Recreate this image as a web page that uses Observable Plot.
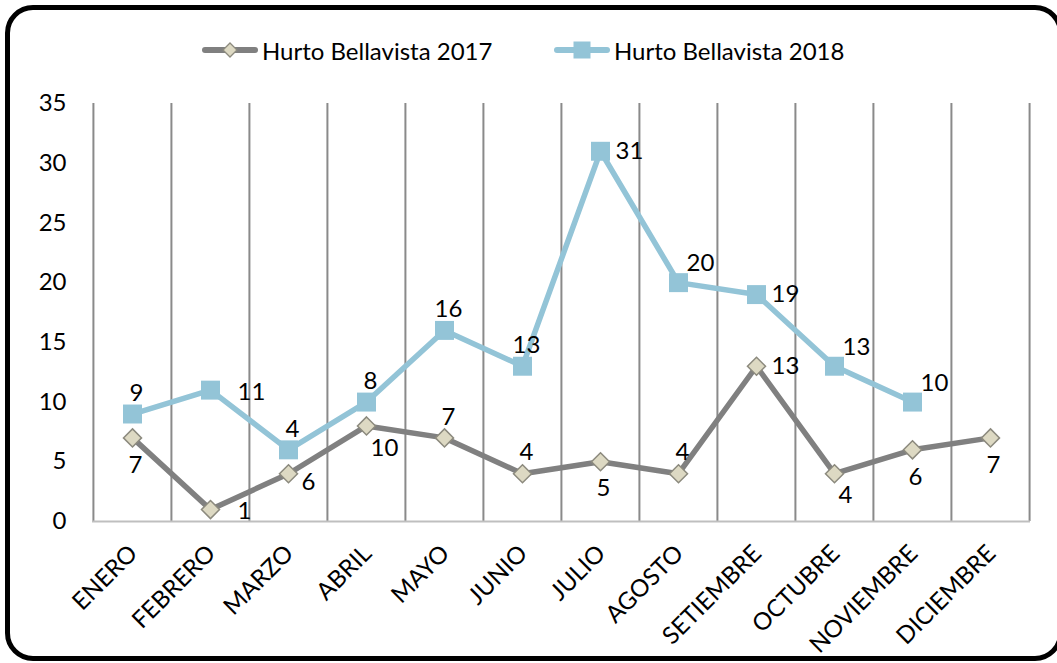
<!DOCTYPE html>
<html>
<head>
<meta charset="utf-8">
<script src="https://cdn.jsdelivr.net/npm/d3@7"></script>
<script src="https://cdn.jsdelivr.net/npm/@observablehq/plot@0.6"></script>
<style>
  body { margin: 0; background: #fff; }
  #wrap { position: relative; width: 1057px; height: 663px; overflow: hidden; font-family: Lato, "Open Sans", sans-serif; }
  #frame { position: absolute; left: 5px; top: 5px; width: 1048px; height: 646px; border: 5px solid #000; border-radius: 28px; box-sizing: content-box; pointer-events: none; }
  #legend { position: absolute; top: 0; left: 0; width: 1057px; height: 100px; }
  .leg { position: absolute; top: 33px; display: flex; align-items: center; font-size: 24px; color: #000; }
  .leg svg { display: block; margin-right: 4px; }
  #chart { position: absolute; left: 0; top: 0; }
</style>
</head>
<body>
<div id="wrap">
  <div id="chart"></div>
  <div id="legend"></div>
  <div id="frame"></div>
</div>
<script>
// ---- data ----
const months = ["ENERO","FEBRERO","MARZO","ABRIL","MAYO","JUNIO","JULIO","AGOSTO","SETIEMBRE","OCTUBRE","NOVIEMBRE","DICIEMBRE"];
const seriesNames = ["Hurto Bellavista 2017", "Hurto Bellavista 2018"];
const hurto2017 = [7, 1, 4, 8, 7, 4, 5, 4, 13, 4, 6, 7];
const hurto2018 = [9, 11, 6, 10, 16, 13, 31, 20, 19, 13, 10];
const labels2017 = ["7","1","6","10","7","4","5","4","13","4","6","7"];
const labels2018 = ["9","11","4","8","16","13","31","20","19","13","10"];
const place2017 = ["below","farRight","rightLow","belowRight","above","above","below","above","right","belowRight","below","below"];
const place2018 = ["above","farRight","above","above","above","above","right","aboveRight","right","aboveRight","aboveRight"];
const yTicks = [0, 5, 10, 15, 20, 25, 30, 35];

// ---- styles ----
const W = 1057, H = 663, ML = 92, MR = 27, MT = 103, MB = 142;
const FONT = 24;
const color2017 = "#808080", color2018 = "#93C4D7";
const diamondFill = "#DDD9C3", diamondStroke = "#8C8A7E";
const gridColor = "#8a8a8a";
const step = (W - ML - MR) / months.length;

const placements = {
  above:      {dx: 4,  dy: -21, anchor: "middle"},
  below:      {dx: 3,  dy: 27,  anchor: "middle"},
  right:      {dx: 15, dy: 0,   anchor: "start"},
  farRight:   {dx: 27, dy: 2,   anchor: "start"},
  aboveRight: {dx: 8,  dy: -19, anchor: "start"},
  belowRight: {dx: 4,  dy: 22,  anchor: "start"},
  rightLow:   {dx: 13, dy: 9,   anchor: "start"}
};

const diamond = {
  draw(ctx, size) {
    const r = Math.sqrt(size / 2);
    ctx.moveTo(0, -r); ctx.lineTo(r, 0); ctx.lineTo(0, r); ctx.lineTo(-r, 0); ctx.closePath();
  }
};

const rows2017 = hurto2017.map((v, i) => ({month: months[i], value: v, label: labels2017[i], place: place2017[i]}));
const rows2018 = hurto2018.map((v, i) => ({month: months[i], value: v, label: labels2018[i], place: place2018[i]}));

function labelMarks(rows) {
  return Object.entries(placements).map(([k, p]) =>
    Plot.text(rows.filter(d => d.place === k), {
      x: "month", y: "value", text: "label",
      dx: p.dx, dy: p.dy, textAnchor: p.anchor,
      fontSize: FONT, fill: "#000"
    })
  );
}

const chart = Plot.plot({
  width: W, height: H,
  marginLeft: ML, marginRight: MR, marginTop: MT, marginBottom: MB,
  style: {fontFamily: "Lato, 'Open Sans', sans-serif", fontSize: FONT + "px", color: "#000", background: "transparent"},
  x: {type: "point", domain: months, padding: 0.5},
  y: {domain: [0, 35]},
  marks: [
    Plot.ruleX(months, {x: d => d, dx: -step / 2, y1: 0, y2: 35, stroke: gridColor, strokeWidth: 2}),
    Plot.ruleX(months.slice(-1), {x: d => d, dx: step / 2, y1: 0, y2: 35, stroke: gridColor, strokeWidth: 2}),
    Plot.ruleY([0], {stroke: "#bfbfbf", strokeWidth: 2}),
    Plot.axisY({ticks: yTicks, tickSize: 0, tickPadding: 26, fontSize: FONT, label: null}),
    Plot.axisX({tickSize: 0, tickPadding: 28, dx: 1, tickRotate: -45, fontSize: FONT, label: null}),
    Plot.line(rows2017, {x: "month", y: "value", stroke: color2017, strokeWidth: 5.5}),
    Plot.line(rows2018, {x: "month", y: "value", stroke: color2018, strokeWidth: 5.5}),
    Plot.dot(rows2017, {x: "month", y: "value", symbol: diamond, r: 7.2, fill: diamondFill, stroke: diamondStroke, strokeWidth: 1.5}),
    Plot.dot(rows2018, {x: "month", y: "value", symbol: "square", r: 10.7, fill: color2018, stroke: "none"}),
    ...labelMarks(rows2017),
    ...labelMarks(rows2018)
  ]
});
document.getElementById("chart").appendChild(chart);

// ---- legend ----
const legend = document.getElementById("legend");
const legendItems = [
  {name: seriesNames[0], color: color2017, marker: "diamond", left: 202},
  {name: seriesNames[1], color: color2018, marker: "square", left: 554}
];
for (const it of legendItems) {
  const div = document.createElement("div");
  div.className = "leg";
  div.style.left = it.left + "px";
  const markerSvg = it.marker === "diamond"
    ? `<path d="M28,10 L35,17 L28,24 L21,17 Z" fill="${diamondFill}" stroke="${diamondStroke}" stroke-width="1.3"/>`
    : `<rect x="19.5" y="8.5" width="17" height="17" fill="${it.color}"/>`;
  div.innerHTML = `<svg width="56" height="34"><line x1="3" x2="53" y1="17" y2="17" stroke="${it.color}" stroke-width="6" stroke-linecap="round"/>${markerSvg}</svg><span>${it.name}</span>`;
  legend.appendChild(div);
}
</script>
</body>
</html>
